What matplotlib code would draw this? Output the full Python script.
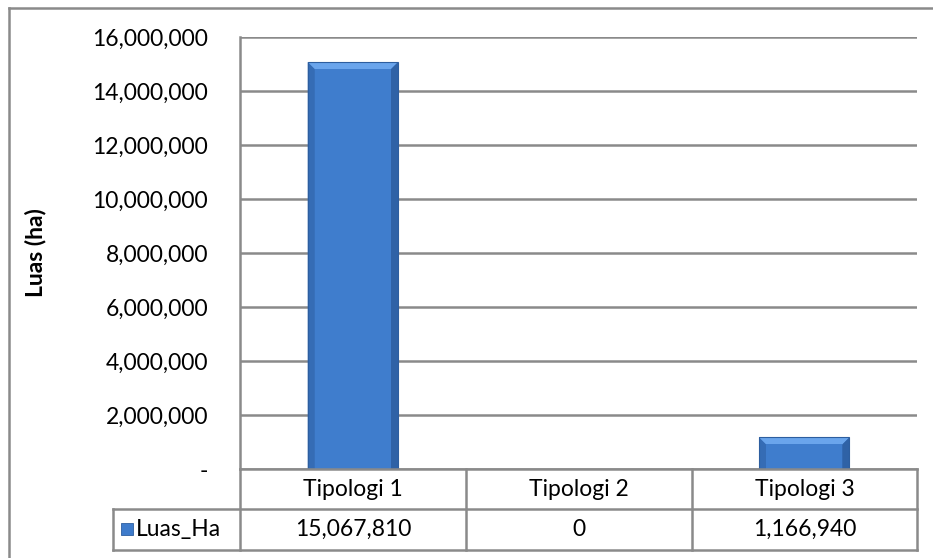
import matplotlib.pyplot as plt
from matplotlib.patches import Polygon, Rectangle
from matplotlib.lines import Line2D

categories = ['Tipologi 1', 'Tipologi 2', 'Tipologi 3']
luas_ha = [15067810, 0, 1166940]
series_name = 'Luas_Ha'
y_ticks = [0, 2000000, 4000000, 6000000, 8000000, 10000000, 12000000, 14000000, 16000000]

plt.rcParams['font.family'] = ['Lato', 'DejaVu Sans']
grey = '#8a8a8a'
fs = 16.5

fig = plt.figure(figsize=(9.33, 5.58), dpi=100)
W, H = 933, 558
# axes box in pixels: x 240..917, y 37..469
ax = fig.add_axes([240 / W, 1 - 469 / H, 677 / W, 432 / H])

x = list(range(len(categories)))
bars = ax.bar(x, luas_ha, width=0.4, color='#3e7bcb', edgecolor='none', zorder=3)
ax.set_xlim(-0.5, 2.5)
ax.set_ylim(0, 16000000)

# bevel on each bar (about 7 px wide)
dx = 7 / 225.7
dy = 7 * 16000000 / 432
for b in bars:
    x0, w, h = b.get_x(), b.get_width(), b.get_height()
    if h <= 0:
        continue
    x1, y1 = x0 + w, h
    e = min(dy, h / 2)
    faces = [
        ([(x0, y1), (x1, y1), (x1 - dx, y1 - e), (x0 + dx, y1 - e)], '#6aa5ec'),
        ([(x0, 0), (x0, y1), (x0 + dx, y1 - e), (x0 + dx, 0)], '#356cb5'),
        ([(x1, 0), (x1, y1), (x1 - dx, y1 - e), (x1 - dx, 0)], '#2f62a6'),
    ]
    for pts, c in faces:
        ax.add_patch(Polygon(pts, closed=True, facecolor=c, edgecolor='none', zorder=4))
    ax.add_patch(Rectangle((x0 + dx, 0), w - 2 * dx, y1 - e, facecolor='#3f7dcd',
                           edgecolor='none', zorder=4))
    ax.add_patch(Rectangle((x0, 0), w, h, facecolor='none', edgecolor='#2d5e9f',
                           linewidth=0.8, zorder=5))

ax.set_yticks(y_ticks)
ax.set_yticklabels(['-' if v == 0 else f'{v:,}' for v in y_ticks], fontsize=fs)
ax.tick_params(axis='y', length=0, pad=23)
ax.set_xticks([])
ax.yaxis.grid(True, color=grey, linewidth=1.8, zorder=0)
for s in ['top', 'right', 'bottom']:
    ax.spines[s].set_visible(False)
ax.spines['left'].set_color(grey)
ax.spines['left'].set_linewidth(1.8)
ax.set_ylabel('Luas (ha)', fontsize=fs, fontweight='bold')
ax.yaxis.set_label_coords((46 - 240) / 677, 0.5)

# data table under the plot, drawn in figure pixels
def fx(px):
    return px / W

def fy(py):
    return 1 - py / H

col_edges = [240, 466, 692, 917]
row_top, row_mid, row_bot = 469, 509, 550
lines = [
    ((240, 917), (row_top, row_top)),
    ((113, 917), (row_mid, row_mid)),
    ((113, 917), (row_bot, row_bot)),
    ((113, 113), (row_mid, row_bot)),
    ((240, 240), (row_top, row_bot)),
]
for ce in col_edges[1:]:
    lines.append(((ce, ce), (row_top, row_bot)))
for (xa, xb), (ya, yb) in lines:
    fig.add_artist(Line2D([fx(xa), fx(xb)], [fy(ya), fy(yb)], color=grey, linewidth=1.8))

for i, cat in enumerate(categories):
    cx = (col_edges[i] + col_edges[i + 1]) / 2
    fig.text(fx(cx), fy((row_top + row_mid) / 2), cat, ha='center', va='center', fontsize=fs)
    fig.text(fx(cx), fy((row_mid + row_bot) / 2), f'{luas_ha[i]:,}', ha='center', va='center',
             fontsize=fs)

# legend key in the row header
fig.add_artist(Rectangle((fx(121), fy(535)), 12 / W, 12 / H, facecolor='#3e7bcb',
                         edgecolor='#2d5e9f', linewidth=0.6))
fig.text(fx(136), fy((row_mid + row_bot) / 2), series_name, ha='left', va='center', fontsize=fs)

# chart frame
fig.add_artist(Line2D([fx(9), fx(933)], [fy(8), fy(8)], color=grey, linewidth=1.8))
fig.add_artist(Line2D([fx(9), fx(9)], [fy(8), fy(558)], color=grey, linewidth=1.8))

fig.savefig('out.png', dpi=100)
